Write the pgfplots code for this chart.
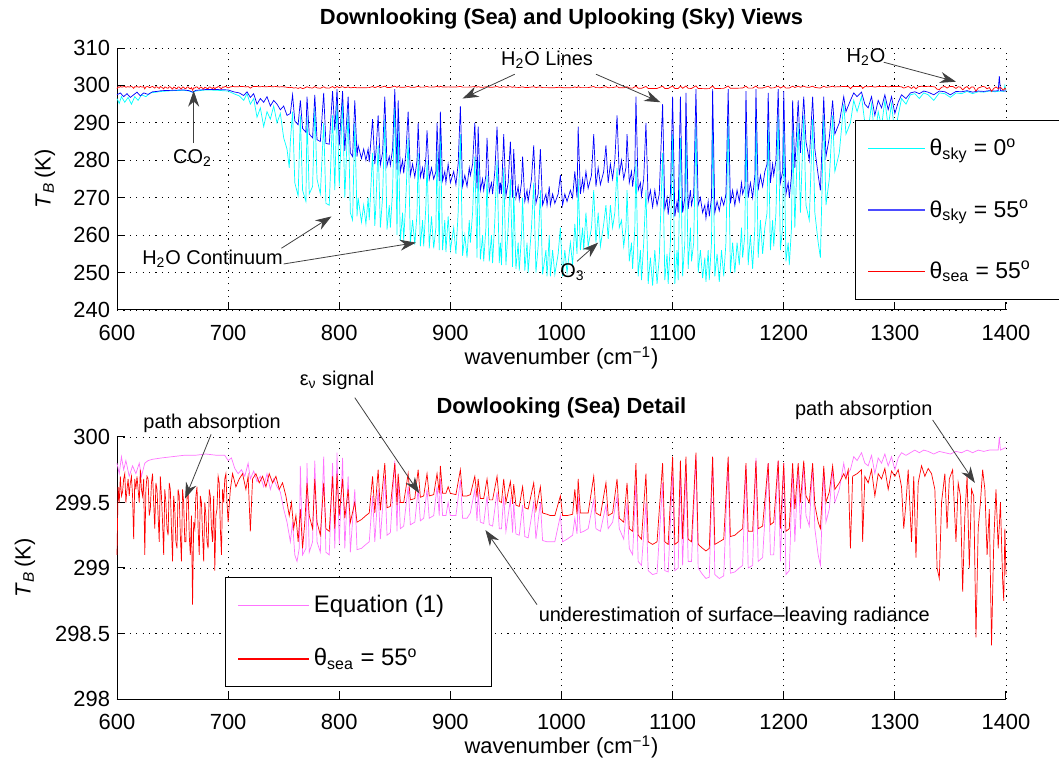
\documentclass[border=0pt]{standalone}
\usepackage{fontspec}
\setmainfont{Liberation Sans}
\usepackage{pgfplots}
\pgfplotsset{compat=1.18}
\usepackage{pgfplotstable}
\usetikzlibrary{arrows.meta}

\definecolor{skycyan}{rgb}{0,1,1}
\definecolor{skyblue}{rgb}{0,0,1}
\definecolor{seared}{rgb}{1,0,0}
\definecolor{eqpink}{rgb}{1,0.45,1}

% theta_sky = 0 deg
\pgfplotstableread[row sep=\\]{x y\\
600 296.5\\ 602 295.2\\ 604 297\\ 607 295.5\\ 610 296.8\\ 613 295\\ 616 297\\ 619 296\\ 622 297.5\\ 626 297\\
630 298\\ 635 298.2\\ 640 298.4\\ 650 298.6\\ 660 298.7\\ 665 298.5\\ 668 298.2\\ 671 298.5\\ 680 298.8\\ 690 298.7\\
700 298.5\\ 705 297.8\\ 710 297.2\\ 714 296\\ 717 297.8\\ 720 295\\ 723 296.5\\ 726 291.5\\ 729 294\\ 732 289\\
735 293\\ 738 291\\ 741 294.5\\ 744 290\\ 747 292.5\\ 750 286\\ 753 283\\ 755 278\\ 756 285\\ 758 293\\
760 274\\ 763 270.5\\ 765 292\\ 767 272\\ 770 269\\ 771 292\\ 773 271\\ 776 273\\ 778 294\\ 780 275\\
783 271\\ 786 290\\ 788 268.5\\ 791 268\\ 794 292\\ 796 272\\ 798 297\\ 800 273\\ 803 296\\ 805 270\\
808 293\\ 810 266\\ 812 264\\ 814 290\\ 816 265\\ 817 270\\ 820 263.5\\ 822 268\\ 824 263\\ 826 270\\ 827 264\\ 830 282\\ 832 262.5\\ 833 268\\
835 284\\ 837 262\\ 839 270\\ 841 291\\ 843 261.5\\ 845 268\\ 846 262\\ 848 272\\ 850 296\\ 852 260\\ 853 289\\ 855 258.5\\ 857 266\\ 858 258.5\\ 860 270\\
862 286\\ 864 258\\ 866 264\\ 868 257.5\\ 870 266\\ 871 282\\ 873 257\\ 875 264\\ 876 257\\ 878 268\\ 879 280\\ 881 256.5\\ 883 265\\ 885 256.5\\ 887 262\\ 888 283\\
890 256\\ 891 288\\ 893 256\\ 895 264\\ 896 255.5\\ 898 265\\ 900 256\\ 903 262\\ 905 255\\ 907 266\\ 909 287\\ 911 254.5\\ 913 260\\ 915 254\\ 917 264\\
918 258\\ 920 266\\ 922 281\\ 924 254\\ 925 280\\ 927 253.5\\ 929 260\\ 930 253\\ 932 262\\ 933 276\\ 935 253\\ 937 260\\ 938 252.5\\ 940 264\\ 942 280\\
944 252.5\\ 945 258\\ 946 252\\ 948 278\\ 950 252\\ 952 262\\ 954 275\\ 956 251.5\\ 957 272\\ 959 251\\ 961 258\\ 962 250.5\\ 964 260\\ 965 270\\
967 250.5\\ 969 258\\ 970 250\\ 973 262\\ 975 274\\ 977 250\\ 979 257\\ 981 272\\ 983 249.5\\ 986 256\\ 987 249\\ 989 260\\ 990 249\\ 992 256\\ 994 249.5\\ 997 255\\ 999 262\\
1001 249\\ 1003 256\\ 1005 250\\ 1008 258\\ 1010 252\\ 1012 263\\ 1014 255\\ 1015 275\\ 1017 256\\ 1019 262\\ 1020 256\\ 1022 266\\ 1024 257\\ 1027 262\\ 1029 272\\
1031 258\\ 1033 266\\ 1035 257\\ 1038 263\\ 1040 268\\ 1042 259\\ 1044 268\\ 1046 262\\ 1048 266\\ 1050 278\\ 1052 262\\ 1054 264\\ 1056 257\\ 1058 262\\ 1059 272\\ 1061 253\\
1063 258\\ 1064 251\\ 1066 262\\ 1067 280\\ 1069 249\\ 1071 256\\ 1072 248\\ 1074 258\\ 1076 272\\ 1078 247\\ 1080 254\\ 1082 246.5\\ 1084 256\\ 1086 247\\ 1088 254\\ 1091 282\\ 1093 248\\
1095 255\\ 1096 247\\ 1098 258\\ 1100 287\\ 1102 247\\ 1104 256\\ 1105 248\\ 1107 286\\ 1109 249\\ 1111 258\\ 1112 289\\ 1114 251\\ 1116 262\\ 1117 253\\ 1119 258\\ 1121 290\\
1123 250\\ 1125 256\\ 1127 248.5\\ 1129 254\\ 1130 247.5\\ 1132 256\\ 1133 248\\ 1135 258\\ 1136 292\\ 1138 249\\ 1140 255\\ 1142 247.5\\ 1144 256\\ 1146 249\\ 1148 258\\ 1150 291\\ 1152 250\\
1154 258\\ 1156 250\\ 1158 258\\ 1160 252\\ 1162 262\\ 1163 254\\ 1165 260\\ 1166 289\\ 1168 252\\ 1170 260\\ 1172 251\\ 1174 262\\ 1175 293\\ 1177 254\\ 1179 264\\ 1181 255\\ 1183 262\\ 1185 266\\ 1186 290\\
1188 256\\ 1190 264\\ 1191 257\\ 1193 266\\ 1195 292\\ 1197 256\\ 1199 262\\ 1200 290\\ 1202 253\\ 1204 258\\ 1205 252\\ 1207 262\\ 1208 288\\ 1210 262\\ 1213 290\\
1215 266\\ 1218 292\\ 1220 268\\ 1223 264\\ 1226 291\\ 1228 266\\ 1231 258\\ 1233 254\\ 1236 292\\ 1238 268\\
1241 275\\ 1244 292\\ 1246 277\\ 1250 282\\ 1254 295\\ 1256 287\\ 1260 290\\ 1263 296\\ 1266 293\\ 1270 297\\
1273 290\\ 1276 288\\ 1279 295\\ 1282 286\\ 1285 293\\ 1288 289\\ 1291 296\\ 1294 289\\ 1297 295\\ 1300 287\\
1303 292\\ 1306 296.5\\ 1310 295\\ 1314 297.5\\ 1318 297.8\\ 1322 296.5\\ 1326 298\\ 1330 297.5\\ 1335 296\\ 1340 298\\
1345 297.8\\ 1350 296.8\\ 1355 298\\ 1360 297.8\\ 1365 298.4\\ 1370 297.8\\ 1375 298.3\\ 1380 298.2\\ 1385 298.5\\ 1390 298.3\\
1395 298.5\\ 1398 298.4\\ 1399 300\\ 1400 298.5\\
}\skyzero

% theta_sky = 55 deg
\pgfplotstableread[row sep=\\]{x y\\
600 297.5\\ 603 298\\ 606 297\\ 609 297.8\\ 612 296.8\\ 615 297.5\\ 618 298.2\\ 621 297.2\\ 624 298\\ 628 297.6\\
632 298.3\\ 636 298.4\\ 640 298.6\\ 650 298.7\\ 660 298.8\\ 665 298.6\\ 668 298.2\\ 671 298.7\\ 680 298.9\\ 690 298.9\\
700 298.8\\ 705 298.3\\ 710 298\\ 714 297.3\\ 717 298.3\\ 720 296.8\\ 723 297.8\\ 726 295\\ 729 296.5\\ 732 295.5\\
735 297\\ 738 294.5\\ 741 296\\ 744 295\\ 747 293.5\\ 750 294.5\\ 753 292\\ 756 292.5\\ 758 297.5\\ 760 290.5\\
763 289.5\\ 765 296\\ 767 288.5\\ 770 287.5\\ 771 297\\ 773 287\\ 776 286\\ 778 297.5\\ 780 285.5\\ 783 285\\
786 298\\ 788 284.5\\ 791 284.3\\ 794 298.5\\ 796 288\\ 798 299\\ 800 284\\ 803 298.5\\ 805 282.5\\ 808 297\\
810 282\\ 812 281\\ 814 296\\ 816 281\\ 817 284\\ 820 280.5\\ 822 283\\ 824 280\\ 826 283\\ 827 279.5\\ 830 291\\ 832 279\\ 833 282\\ 835 292\\
837 278.8\\ 839 282\\ 841 297\\ 843 278.5\\ 845 281\\ 846 278.7\\ 848 283\\ 850 299\\ 852 277.5\\ 853 296\\ 855 277\\ 857 280\\ 858 276.5\\ 860 282\\ 862 293\\
864 276\\ 866 279\\ 868 275.5\\ 870 280\\ 871 290\\ 873 275.5\\ 875 278\\ 876 275\\ 878 281\\ 879 288\\ 881 275\\ 883 278\\ 885 275\\ 887 277\\ 888 290\\ 890 274.5\\
891 293\\ 893 274.5\\ 895 277\\ 896 274\\ 898 279\\ 900 274\\ 903 277\\ 905 273.5\\ 907 279\\ 909 294.5\\ 911 273\\ 913 276\\ 915 273\\ 917 278\\ 918 276\\
920 279\\ 922 290\\ 924 272.5\\ 925 289\\ 927 272\\ 929 275\\ 930 272\\ 932 276\\ 933 286\\ 935 271.5\\ 937 274\\ 938 271\\ 940 277\\ 942 289\\ 944 271\\
945 274\\ 946 271\\ 948 287\\ 950 270.5\\ 952 274\\ 954 285\\ 956 270\\ 957 283\\ 959 270\\ 961 273\\ 962 269.5\\ 964 274\\ 965 281\\ 967 269\\
969 272\\ 970 269\\ 973 275\\ 975 284\\ 977 268.5\\ 979 271\\ 981 283\\ 983 268\\ 986 271\\ 987 268\\ 989 273\\ 990 268\\ 992 271\\ 994 268.5\\ 997 271\\ 999 276\\ 1001 268\\
1003 271\\ 1005 269\\ 1008 272\\ 1010 270\\ 1012 277\\ 1014 270\\ 1015 289\\ 1017 271\\ 1019 275\\ 1020 272\\ 1022 277\\ 1024 272.5\\ 1027 276\\ 1029 287\\ 1031 273\\
1033 278\\ 1035 273.5\\ 1038 277\\ 1040 284\\ 1042 274\\ 1044 279\\ 1046 275\\ 1048 280\\ 1050 292\\ 1052 276\\ 1054 280\\ 1056 275\\ 1058 278\\ 1059 287\\ 1061 274\\ 1063 277\\ 1064 273\\
1066 278\\ 1067 297\\ 1069 272\\ 1071 274\\ 1072 270.5\\ 1074 275\\ 1076 290\\ 1078 269\\ 1080 272\\ 1082 267.5\\ 1084 272\\ 1086 268\\ 1088 271\\ 1091 295\\ 1093 267\\ 1095 270\\ 1096 265.5\\
1098 271\\ 1100 297\\ 1102 265\\ 1104 269\\ 1105 266\\ 1107 297\\ 1109 266\\ 1111 270\\ 1112 298\\ 1114 267\\ 1116 272\\ 1117 268\\ 1119 271\\ 1121 299\\ 1123 268\\
1125 270\\ 1127 266\\ 1129 268\\ 1130 264.5\\ 1132 269\\ 1133 265\\ 1135 270\\ 1136 299\\ 1138 266\\ 1140 269\\ 1142 266.5\\ 1144 270\\ 1146 268\\ 1148 271\\ 1150 299\\ 1152 268.5\\ 1154 272\\ 1156 268\\
1158 272\\ 1160 269\\ 1162 274\\ 1163 271\\ 1165 273\\ 1166 298.5\\ 1168 270\\ 1170 274\\ 1172 270\\ 1174 276\\ 1175 299\\ 1177 272\\ 1179 276\\ 1181 273\\ 1183 277\\ 1185 279\\ 1186 298\\ 1188 274\\
1190 279\\ 1191 276\\ 1193 280\\ 1195 299\\ 1197 274\\ 1199 277\\ 1200 298.5\\ 1202 271\\ 1204 274\\ 1205 270\\ 1207 276\\ 1208 296\\ 1210 278\\ 1213 296\\ 1215 282\\
1218 297\\ 1220 285\\ 1223 280\\ 1226 297\\ 1228 283\\ 1231 276\\ 1233 272\\ 1236 297\\ 1238 281\\ 1241 286\\
1244 296\\ 1246 287\\ 1250 290\\ 1254 297\\ 1256 293\\ 1260 296\\ 1263 298\\ 1266 297\\ 1270 298.2\\ 1273 295\\
1276 294\\ 1279 297\\ 1282 292\\ 1285 296\\ 1288 294\\ 1291 297.5\\ 1294 293.5\\ 1297 297\\ 1300 292.5\\ 1303 295.5\\
1306 297.5\\ 1310 296.5\\ 1314 298\\ 1318 298.3\\ 1322 297.8\\ 1326 298.5\\ 1330 298.2\\ 1335 297.5\\ 1340 298.5\\ 1345 298.3\\
1350 297.5\\ 1355 298.4\\ 1360 298.3\\ 1365 298.6\\ 1370 298.2\\ 1375 298.5\\ 1380 298.4\\ 1385 298.6\\ 1390 298.5\\ 1393 298.6\\
1394 302.5\\ 1395 298.6\\ 1400 298.5\\
}\skyfiftyfive

% theta_sea = 55 deg
\pgfplotstableread[row sep=\\]{x y\\
600 299.1\\ 601 299.62\\ 602 299.5\\ 603 299.7\\ 604 299.55\\ 605 299.58\\ 606 299.68\\ 607 299.72\\ 608 299.5\\ 609 299.6\\
610 299.68\\ 611 299.55\\ 612 299.65\\ 613 299.7\\ 614 299.55\\ 615 299.22\\ 616 299.68\\ 617 299.6\\ 618 299.7\\ 619 299.6\\
620 299.5\\ 621 299.75\\ 622 299.6\\ 623 299.55\\ 624 299.68\\ 625 299.1\\ 626 299.6\\ 627 299.7\\ 628 299.68\\ 629 299.4\\
630 299.45\\ 631 299.65\\ 632 299.72\\ 633 299.5\\ 634 299.3\\ 635 299.65\\ 636 299.6\\ 637 299.4\\ 638 299.2\\ 639 299.7\\
640 299.55\\ 641 299.35\\ 642 299.1\\ 643 299.6\\ 644 299.5\\ 645 299.3\\ 646 299.25\\ 647 299.65\\ 648 299.6\\ 649 299.3\\
650 299.05\\ 651 299.55\\ 652 299.45\\ 653 299.2\\ 654 299.15\\ 655 299.6\\ 656 299.55\\ 657 299.25\\ 658 299.05\\ 659 299.6\\
660 299.5\\ 661 299.2\\ 662 299.2\\ 663 299.55\\ 664 299.6\\ 665 299.25\\ 666 299.1\\ 667 299.4\\ 668 298.72\\ 669 299.35\\
670 299.3\\ 671 299.55\\ 672 299.62\\ 673 299.3\\ 674 299.1\\ 675 299.55\\ 676 299.5\\ 677 299.25\\ 678 299.05\\ 679 299.5\\
680 299.4\\ 681 299.2\\ 682 299.15\\ 683 299.6\\ 684 299.55\\ 685 299.3\\ 686 299.2\\ 687 299.55\\ 688 298.98\\ 689 299.4\\
690 299.45\\ 691 299.7\\ 692 299.65\\ 693 299.3\\ 694 299.1\\ 695 299.6\\ 696 299.5\\ 697 299.68\\ 698 299.72\\ 699 299.5\\
700 299.35\\ 702 299.6\\ 704 299.72\\ 707 299.62\\ 710 299.68\\ 713 299.72\\ 716 299.6\\ 718 299.7\\ 720 299.28\\
722 299.68\\ 725 299.72\\ 728 299.65\\ 731 299.7\\ 734 299.62\\ 737 299.72\\ 740 299.65\\ 743 299.7\\ 746 299.6\\ 749 299.65\\
752 299.55\\ 755 299.4\\ 757 299.5\\ 759 299.3\\ 761 299.4\\ 763 299.2\\ 765 299.45\\ 767 299.15\\ 769 299.35\\ 771 299.65\\
773 299.4\\ 776 299.3\\ 778 299.68\\ 780 299.35\\ 783 299.25\\ 786 299.65\\ 788 299.3\\ 791 299.28\\ 794 299.7\\ 796 299.3\\
798 299.72\\ 800 299.4\\ 803 299.68\\ 805 299.38\\ 808 299.6\\ 810 299.35\\ 814 299.5\\ 816 299.35\\ 820 299.37\\ 824 299.4\\
827 299.42\\ 830 299.7\\ 832 299.42\\ 835 299.75\\ 837 299.44\\ 841 299.8\\ 843 299.46\\ 846 299.47\\ 850 299.8\\ 852 299.48\\
853 299.72\\ 855 299.5\\ 858 299.5\\ 862 299.72\\ 864 299.52\\ 868 299.53\\ 871 299.75\\ 873 299.54\\ 876 299.55\\ 879 299.72\\
881 299.55\\ 885 299.56\\ 888 299.72\\ 890 299.57\\ 891 299.78\\ 893 299.57\\ 896 299.57\\ 898 299.62\\ 900 299.57\\ 905 299.56\\
909 299.75\\ 911 299.55\\ 915 299.55\\ 918 299.56\\ 922 299.7\\ 924 299.54\\ 925 299.68\\ 927 299.53\\ 930 299.53\\ 933 299.68\\
935 299.52\\ 938 299.52\\ 942 299.7\\ 944 299.51\\ 946 299.5\\ 948 299.68\\ 950 299.5\\ 954 299.66\\ 956 299.49\\ 957 299.64\\
959 299.48\\ 962 299.47\\ 965 299.62\\ 967 299.46\\ 970 299.45\\ 975 299.65\\ 977 299.44\\ 981 299.62\\ 983 299.42\\ 987 299.41\\
990 299.4\\ 994 299.4\\ 999 299.55\\ 1001 299.4\\ 1005 299.4\\ 1010 299.41\\ 1012 299.6\\ 1014 299.41\\ 1015 299.68\\ 1017 299.42\\
1020 299.42\\ 1024 299.42\\ 1029 299.7\\ 1031 299.42\\ 1035 299.4\\ 1040 299.65\\ 1042 299.4\\ 1046 299.42\\ 1050 299.68\\ 1052 299.38\\
1056 299.35\\ 1059 299.65\\ 1061 299.3\\ 1064 299.28\\ 1067 299.8\\ 1069 299.25\\ 1072 299.22\\ 1076 299.72\\ 1078 299.2\\ 1082 299.18\\
1086 299.2\\ 1091 299.8\\ 1093 299.2\\ 1096 299.18\\ 1100 299.85\\ 1102 299.18\\ 1105 299.2\\ 1107 299.82\\ 1109 299.22\\ 1112 299.85\\
1114 299.22\\ 1117 299.2\\ 1121 299.88\\ 1123 299.18\\ 1127 299.15\\ 1130 299.13\\ 1133 299.15\\ 1136 299.85\\ 1138 299.18\\ 1142 299.2\\
1146 299.22\\ 1150 299.85\\ 1152 299.24\\ 1156 299.25\\ 1160 299.28\\ 1163 299.3\\ 1166 299.8\\ 1168 299.28\\ 1172 299.28\\ 1175 299.82\\
1177 299.3\\ 1181 299.32\\ 1186 299.8\\ 1188 299.33\\ 1191 299.35\\ 1195 299.82\\ 1197 299.3\\ 1200 299.8\\ 1202 299.28\\ 1205 299.3\\
1208 299.8\\ 1210 299.45\\ 1213 299.8\\ 1215 299.5\\ 1218 299.82\\ 1220 299.55\\ 1223 299.5\\ 1226 299.8\\ 1228 299.48\\ 1231 299.35\\
1233 299.3\\ 1236 299.78\\ 1238 299.5\\ 1241 299.58\\ 1244 299.78\\ 1246 299.6\\ 1250 299.65\\ 1254 299.72\\ 1256 299.68\\ 1258 299.75\\
1260 299.15\\ 1262 299.7\\ 1266 299.72\\ 1270 299.75\\ 1271 299.2\\ 1273 299.7\\ 1276 299.65\\ 1279 299.75\\ 1282 299.55\\ 1285 299.72\\
1288 299.68\\ 1291 299.76\\ 1294 299.6\\ 1297 299.74\\ 1300 299.7\\ 1303 299.75\\ 1306 299.62\\ 1308 299.3\\ 1310 299.5\\ 1312 299.75\\
1315 299.2\\ 1317 299.7\\ 1319 299.08\\ 1321 299.65\\ 1324 299.78\\ 1327 299.7\\ 1330 299.76\\ 1333 299.72\\ 1336 299.6\\ 1338 299.0\\
1340 298.92\\ 1342 299.5\\ 1345 299.72\\ 1347 299.3\\ 1349 299.68\\ 1352 299.75\\ 1355 299.2\\ 1357 299.65\\ 1359 299.55\\ 1361 298.82\\
1363 299.4\\ 1365 299.7\\ 1367 299.0\\ 1369 299.6\\ 1371 299.55\\ 1373 298.47\\ 1375 299.3\\ 1377 299.5\\ 1379 299.75\\ 1381 299.6\\
1383 299.1\\ 1385 299.45\\ 1387 298.41\\ 1389 299.2\\ 1391 299.6\\ 1393 299.15\\ 1395 299.5\\ 1397 298.9\\ 1398 298.75\\ 1399 299.3\\
1400 298.95\\
}\seafiftyfive

% Equation (1)
\pgfplotstableread[row sep=\\]{x y\\
600 299.8\\ 602 299.72\\ 604 299.85\\ 606 299.75\\ 608 299.82\\ 611 299.7\\ 614 299.78\\ 617 299.72\\ 620 299.8\\ 622 299.7\\
625 299.8\\ 628 299.82\\ 632 299.83\\ 640 299.84\\ 650 299.85\\ 660 299.86\\ 670 299.86\\ 680 299.87\\ 690 299.86\\ 697 299.86\\
700 299.82\\ 703 299.84\\ 706 299.76\\ 709 299.72\\ 712 299.75\\ 715 299.7\\ 718 299.8\\ 720 299.68\\ 723 299.74\\ 726 299.66\\
729 299.7\\ 732 299.62\\ 735 299.72\\ 738 299.6\\ 741 299.68\\ 744 299.62\\ 747 299.58\\ 750 299.45\\ 753 299.35\\ 756 299.2\\
758 299.35\\ 760 299.1\\ 762 299.05\\ 764 299.15\\ 765 299.78\\ 767 299.1\\ 770 299.15\\ 771 299.8\\ 773 299.12\\ 776 299.2\\
778 299.82\\ 780 299.2\\ 783 299.12\\ 786 299.85\\ 788 299.12\\ 791 299.1\\ 794 299.8\\ 796 299.15\\ 798 299.88\\ 800 299.18\\
803 299.84\\ 805 299.15\\ 808 299.7\\ 810 299.12\\ 814 299.6\\ 816 299.14\\ 820 299.15\\ 824 299.18\\ 827 299.2\\ 830 299.55\\
832 299.2\\ 835 299.6\\ 837 299.22\\ 841 299.7\\ 843 299.25\\ 846 299.27\\ 850 299.82\\ 852 299.28\\ 853 299.7\\ 855 299.3\\
858 299.32\\ 862 299.62\\ 864 299.33\\ 868 299.35\\ 871 299.6\\ 873 299.36\\ 876 299.38\\ 879 299.6\\ 881 299.38\\ 885 299.4\\
888 299.62\\ 890 299.4\\ 891 299.68\\ 893 299.4\\ 896 299.4\\ 898 299.5\\ 900 299.4\\ 905 299.4\\ 909 299.67\\ 911 299.38\\
915 299.38\\ 918 299.42\\ 922 299.6\\ 924 299.36\\ 925 299.58\\ 927 299.35\\ 930 299.34\\ 933 299.55\\ 935 299.33\\ 938 299.32\\
942 299.58\\ 944 299.3\\ 946 299.3\\ 948 299.55\\ 950 299.28\\ 954 299.52\\ 956 299.27\\ 957 299.5\\ 959 299.26\\ 962 299.25\\
965 299.48\\ 967 299.24\\ 970 299.23\\ 975 299.5\\ 977 299.22\\ 981 299.5\\ 983 299.21\\ 987 299.2\\ 990 299.2\\ 994 299.2\\
999 299.4\\ 1001 299.2\\ 1005 299.22\\ 1010 299.25\\ 1012 299.38\\ 1014 299.26\\ 1015 299.55\\ 1017 299.27\\ 1020 299.28\\ 1024 299.3\\
1029 299.52\\ 1031 299.3\\ 1035 299.28\\ 1040 299.48\\ 1042 299.3\\ 1046 299.35\\ 1050 299.55\\ 1052 299.3\\ 1056 299.22\\ 1059 299.5\\
1061 299.15\\ 1064 299.1\\ 1067 299.65\\ 1069 299.05\\ 1072 299.02\\ 1076 299.5\\ 1078 298.98\\ 1082 298.95\\ 1086 298.96\\ 1091 299.65\\
1093 298.98\\ 1096 298.97\\ 1100 299.72\\ 1102 298.98\\ 1105 299.0\\ 1107 299.72\\ 1109 299.02\\ 1112 299.75\\ 1114 299.05\\ 1117 299.05\\
1121 299.85\\ 1123 299.0\\ 1127 298.95\\ 1130 298.92\\ 1133 298.93\\ 1136 299.85\\ 1138 298.95\\ 1142 298.92\\ 1146 298.94\\ 1150 299.82\\
1152 298.96\\ 1156 298.97\\ 1160 299.0\\ 1163 299.02\\ 1166 299.78\\ 1168 299.0\\ 1172 299.02\\ 1175 299.84\\ 1177 299.05\\ 1181 299.08\\
1186 299.8\\ 1188 299.1\\ 1191 299.1\\ 1195 299.82\\ 1197 299.05\\ 1200 299.8\\ 1202 298.95\\ 1205 298.98\\ 1208 299.75\\ 1210 299.2\\
1213 299.78\\ 1215 299.3\\ 1218 299.8\\ 1220 299.4\\ 1223 299.32\\ 1226 299.78\\ 1228 299.3\\ 1231 299.1\\ 1233 299.02\\ 1236 299.75\\
1238 299.35\\ 1241 299.45\\ 1244 299.75\\ 1246 299.5\\ 1250 299.6\\ 1254 299.8\\ 1256 299.7\\ 1260 299.75\\ 1263 299.85\\ 1266 299.82\\
1270 299.88\\ 1273 299.8\\ 1276 299.78\\ 1279 299.86\\ 1282 299.72\\ 1285 299.84\\ 1288 299.8\\ 1291 299.87\\ 1294 299.78\\ 1297 299.85\\
1300 299.75\\ 1303 299.84\\ 1306 299.88\\ 1310 299.86\\ 1314 299.88\\ 1318 299.9\\ 1322 299.88\\ 1326 299.9\\ 1330 299.89\\ 1335 299.87\\
1340 299.89\\ 1345 299.88\\ 1350 299.87\\ 1355 299.89\\ 1360 299.88\\ 1365 299.9\\ 1370 299.88\\ 1375 299.9\\ 1380 299.89\\ 1385 299.9\\
1390 299.9\\ 1393 299.9\\ 1394 300.0\\ 1395 299.9\\ 1400 299.92\\
}\eqone

\pgfplotsset{
  specstyle/.style={
    scale only axis, width=444.5bp, height=131bp,
    xmin=600, xmax=1400, xtick={600,700,...,1400},
    axis x line*=bottom, axis y line*=left, axis line style={-, line width=0.5bp},
    tick align=inside, major tick length=4bp, tick style={black, line width=0.5bp},
    grid=major, major grid style={black, line width=0.45bp, dash pattern=on 0.6bp off 2.6bp},
    ticklabel style={font=\fontsize{11}{13}\selectfont},
    xticklabel style={yshift=-4bp},
    /pgf/number format/assume math mode=true,
    /pgf/number format/set thousands separator={},
    label style={font=\fontsize{11}{13}\selectfont},
    title style={font=\fontsize{11}{13}\selectfont\bfseries, at={(0.5,1)}, anchor=center, yshift=8.5bp},
    xlabel={wavenumber (cm\textsuperscript{−1})},
    xlabel style={at={(axis description cs:0.5,0)}, anchor=center, yshift=-24bp},
    ylabel={\textit{T}\textsubscript{\textit{B}}\,(K)},
    clip=false,
    legend cell align=left,
  },
}
\tikzset{
  annot/.style={font=\fontsize{10}{12}\selectfont},
  pointer/.style={-{Stealth[length=8bp, width=5.5bp]}, line width=0.4bp, draw=black!75},
}

\begin{document}
\begin{tikzpicture}
\useasboundingbox (0,0) rectangle (529.5bp,381bp);

% upper panel
\begin{axis}[specstyle,
  at={(58.5bp,226bp)}, anchor=south west,
  ymin=240, ymax=310, ytick={240,250,...,310},
  title={Downlooking (Sea) and Uplooking (Sky) Views},
  ylabel style={at={(axis description cs:-0.081,0.5)}, anchor=center},
  legend image code/.code={\draw[#1] (0bp,0bp) -- (28.5bp,0bp);},
  legend style={at={(0.83,0.725)}, anchor=north west, draw=black, line width=0.5bp,
    fill=white, font=\fontsize{11.5}{13}\selectfont, row sep=16.5bp,
    inner xsep=6bp, inner ysep=7bp},
]
\addplot[skycyan, line width=0.35bp, forget plot] table {\skyzero};
\addplot[skyblue, line width=0.35bp, forget plot] table {\skyfiftyfive};
\addplot[seared, line width=0.35bp, forget plot] table {\seafiftyfive};
\addlegendimage{draw=skycyan, line width=0.7bp}
\addlegendentry{\makebox[66bp][l]{θ\textsubscript{sky} = 0\textsuperscript{o}}}
\addlegendimage{draw=skyblue!70!white, line width=0.7bp}
\addlegendentry{\makebox[66bp][l]{θ\textsubscript{sky} = 55\textsuperscript{o}}}
\addlegendimage{draw=seared, line width=0.7bp}
\addlegendentry{\makebox[66bp][l]{θ\textsubscript{sea} = 55\textsuperscript{o}}}

\node[annot] at (axis cs:987,306.8) {H\textsubscript{2}O Lines};
\draw[pointer] (axis cs:958,303) -- (axis cs:911,296.5);
\draw[pointer] (axis cs:1031,303) -- (axis cs:1089,295.5);
\node[annot] at (axis cs:1274,307.6) {H\textsubscript{2}O};
\draw[pointer] (axis cs:1290,306.2) -- (axis cs:1355,301);
\node[annot] at (axis cs:668,280.5) {CO\textsubscript{2}};
\draw[pointer] (axis cs:669,284.6) -- (axis cs:669,298.6);
\node[annot] at (axis cs:686,253.8) {H\textsubscript{2}O Continuum};
\draw[pointer] (axis cs:748,256.5) -- (axis cs:793,265);
\draw[pointer] (axis cs:750,252.3) -- (axis cs:869,258);
\node[annot] at (axis cs:1010,250) {O\textsubscript{3}};
\draw[pointer] (axis cs:1014,253) -- (axis cs:1033,258);
\end{axis}

% lower panel
\begin{axis}[specstyle,
  at={(58.5bp,31.5bp)}, anchor=south west,
  ymin=298, ymax=300, ytick={298,298.5,...,300},
  title={Dowlooking (Sea) Detail},
  ylabel style={at={(axis description cs:-0.1035,0.5)}, anchor=center},
  legend image code/.code={\draw[#1] (0bp,0bp) -- (35.5bp,0bp);},
  legend style={at={(0.1215,0.466)}, anchor=north west, draw=black, line width=0.5bp,
    fill=white, font=\fontsize{12}{14}\selectfont, row sep=12.5bp,
    inner xsep=6bp, inner ysep=7bp},
]
\addplot[eqpink, line width=0.35bp, forget plot] table {\eqone};
\addplot[seared, line width=0.35bp, forget plot] table {\seafiftyfive};
\addlegendimage{draw=eqpink, line width=0.7bp}
\addlegendentry{\makebox[81bp][l]{Equation (1)}}
\addlegendimage{draw=seared, line width=0.7bp}
\addlegendentry{\makebox[81bp][l]{θ\textsubscript{sea} = 55\textsuperscript{o}}}

\node[annot] at (axis cs:685.6,300.107) {path absorption};
\draw[pointer] (axis cs:684.7,300.02) -- (axis cs:661.3,299.53);
\node[annot] at (axis cs:798,300.43) {ε\textsubscript{ν} signal};
\draw[pointer] (axis cs:814,300.30) -- (axis cs:872,299.57);
\node[annot] at (axis cs:1272,300.2) {path absorption};
\draw[pointer] (axis cs:1334,300.13) -- (axis cs:1372,299.65);
\node[annot] at (axis cs:1155.5,298.63) {underestimation of surface–leaving radiance};
\draw[pointer] (axis cs:978,298.72) -- (axis cs:931.5,299.29);
\end{axis}
\end{tikzpicture}
\end{document}
